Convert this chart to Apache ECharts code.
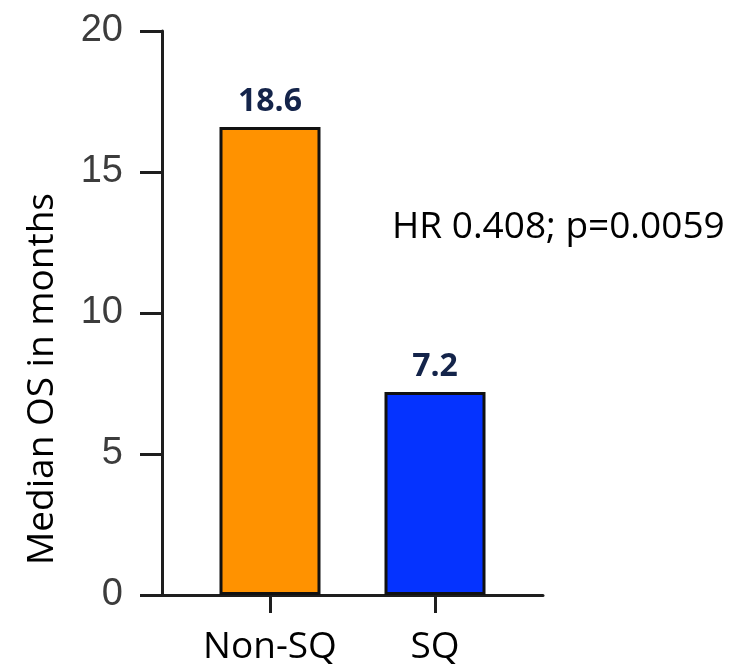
<!DOCTYPE html>
<html>
<head>
<meta charset="utf-8">
<script src="https://cdn.jsdelivr.net/npm/echarts@6/dist/echarts.min.js"></script>
<style>html,body{margin:0;padding:0;background:#fff}#c{width:746px;height:666px}</style>
</head>
<body>
<div id="c"></div>
<script>
const categories = ["Non-SQ", "SQ"];
const values = [16.6, 7.2];
const valueLabels = ["18.6", "7.2"];
const barColors = ["#FF9200", "#0533FF"];
const yTicks = [0, 5, 10, 15, 20];
const yAxisTitle = "Median OS in months";
const annotation = "HR 0.408; p=0.0059";

const chart = echarts.init(document.getElementById('c'), null, {renderer: 'canvas'});
const axisColor = '#1e1e1e';
const labelFont = "'Open Sans', 'Noto Sans', sans-serif";

chart.setOption({
  animation: false,
  backgroundColor: '#ffffff',
  grid: {left: 162, right: 203, top: 31, bottom: 69, containLabel: false},
  xAxis: {
    type: 'value',
    min: -0.6545,
    max: 1.6545,
    splitLine: {show: false},
    axisLine: {show: true, onZero: false, lineStyle: {color: axisColor, width: 3}},
    axisTick: {show: true, customValues: categories.map((c, i) => i), length: 18, lineStyle: {color: axisColor, width: 3}},
    axisLabel: {
      show: true,
      customValues: categories.map((c, i) => i),
      formatter: v => categories[Math.round(v)] || '',
      color: '#000000',
      fontFamily: labelFont,
      fontSize: 37,
      margin: 34
    }
  },
  yAxis: {
    type: 'value',
    min: yTicks[0],
    max: yTicks[yTicks.length - 1],
    interval: 5,
    splitLine: {show: false},
    axisLine: {show: true, onZero: false, lineStyle: {color: axisColor, width: 3}},
    axisTick: {show: true, length: 22, lineStyle: {color: axisColor, width: 3}},
    axisLabel: {
      color: '#3c3c3c',
      fontFamily: "'Liberation Sans', Arial, sans-serif",
      fontSize: 38,
      margin: 39
    }
  },
  series: [{
    type: 'bar',
    barWidth: 101,
    data: values.map((v, i) => ({
      value: [i, v],
      itemStyle: {color: barColors[i], borderColor: '#111111', borderWidth: 3},
      label: {formatter: valueLabels[i]}
    })),
    label: {
      show: true,
      position: 'top',
      distance: 9,
      color: '#14244a',
      fontWeight: 'bold',
      fontFamily: labelFont,
      fontSize: 32
    }
  }],
  graphic: [
    {
      type: 'text',
      x: 42, y: 379,
      rotation: Math.PI / 2,
      style: {
        text: yAxisTitle,
        fill: '#000000',
        font: "37px 'Open Sans', 'Noto Sans', sans-serif",
        textAlign: 'center',
        textVerticalAlign: 'middle'
      }
    },
    {
      type: 'text',
      x: 392, y: 227,
      style: {
        text: annotation,
        fill: '#000000',
        font: "37px 'Open Sans', 'Noto Sans', sans-serif",
        textAlign: 'left',
        textVerticalAlign: 'middle'
      }
    }
  ]
});
</script>
</body>
</html>
